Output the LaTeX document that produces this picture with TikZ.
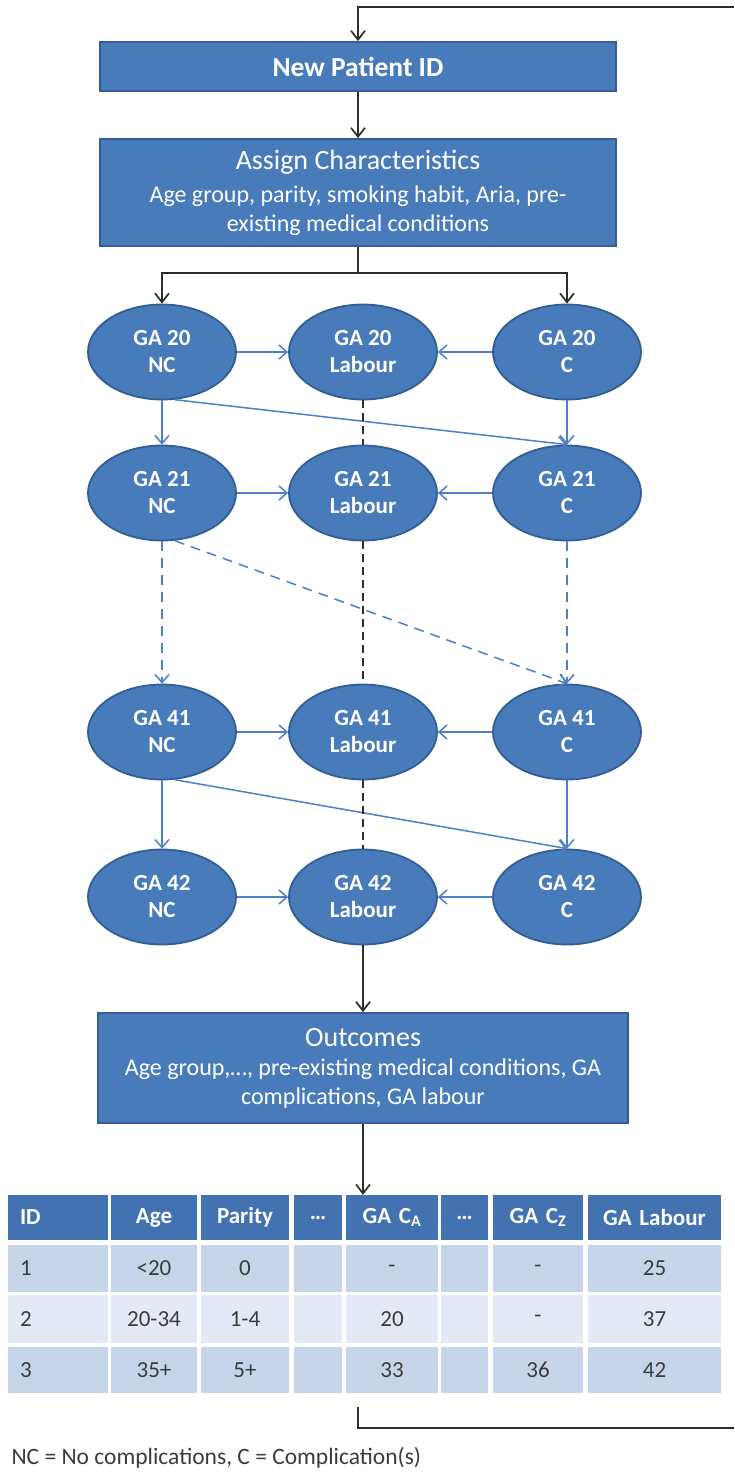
\documentclass[tikz,border=0pt]{standalone}
\usepackage{fontspec}
\setmainfont{Carlito}
\usetikzlibrary{shapes.geometric, arrows.meta}
\definecolor{boxblue}{RGB}{72,123,186}
\definecolor{boxline}{RGB}{50,94,148}
\definecolor{flowblue}{RGB}{78,128,200}
\definecolor{darkline}{RGB}{45,45,45}
\definecolor{headblue}{RGB}{66,114,176}
\definecolor{rowdark}{RGB}{199,213,234}
\definecolor{rowlight}{RGB}{227,234,245}
\definecolor{celltext}{RGB}{60,60,60}

\begin{document}
\begin{tikzpicture}[x=1pt, y=-1pt,
	box/.style={rectangle, draw=boxline, fill=boxblue, line width=1.8pt, text=white, align=center, inner sep=0pt},
	state/.style={ellipse, draw=boxline, fill=boxblue, line width=1.8pt, minimum width=148pt, minimum height=95pt, inner sep=0pt, text=white, align=center, font=\bfseries\fontsize{23}{27}\selectfont},
	flow/.style={draw=flowblue, line width=1.5pt, -{Straight Barb[length=8pt, width=14pt]}},
	main/.style={draw=darkline, line width=1.7pt, -{Straight Barb[length=9pt, width=14pt]}},
	cell/.style={rectangle, inner xsep=12pt, inner ysep=0pt, text=celltext, font=\fontsize{23}{26}\selectfont},
	cellalign/.style={align=center}]
		\useasboundingbox (0,0) rectangle (734,1476);
		\fill[white] (0,0) rectangle (734,1476);

		% boxes
		\node[box, minimum width=516pt, minimum height=49pt, font=\bfseries\fontsize{27.5}{30}\selectfont] (np) at (358,66.5) {New Patient ID};
		\node[box, minimum width=516pt, minimum height=107pt, font=\fontsize{24}{28.5}\selectfont] (ac) at (358,192.5) {{\fontsize{28}{32}\selectfont Assign Characteristics}\\[5pt] Age group, parity, smoking habit, Aria, pre-\\existing medical conditions};
		\node[box, minimum width=530pt, minimum height=110pt, font=\fontsize{24}{29}\selectfont] (oc) at (363,1068) {{\fontsize{28}{32}\selectfont Outcomes}\\[0pt] Age group,\ldots, pre-existing medical conditions, GA\\complications, GA labour};

		% gestational age states
		\foreach \ga/\y in {20/352, 21/493, 41/732, 42/897} {
			\node[state] (nc\ga) at (162,\y) {GA \ga\\NC};
			\node[state] (lab\ga) at (363,\y) {GA \ga\\Labour};
			\node[state] (c\ga) at (567,\y) {GA \ga\\C};
			\draw[flow] (nc\ga) -- (lab\ga);
			\draw[flow] (c\ga) -- (lab\ga);
		}
		\foreach \a/\b in {20/21, 41/42} {
			\draw[flow] (nc\a) -- (nc\b);
			\draw[flow] (c\a) -- (c\b);
			\draw[flow] (nc\a.-75) -- (c\b.north);
		}
		\draw[flow, dash pattern=on 10pt off 7pt] (nc21) -- (nc41);
		\draw[flow, dash pattern=on 10pt off 7pt] (c21) -- (c41);
		\draw[flow, dash pattern=on 10pt off 7pt] (nc21.-75) -- (c41.north);
		\foreach \a/\b in {20/21, 21/41, 41/42}
			\draw[darkline, line width=1.6pt, dash pattern=on 8pt off 5pt] (lab\a) -- (lab\b);

		% main flow
		\coordinate (loopin) at (734,7);
		\coordinate (split) at (358,273);
		\draw[main] (loopin) -| (np.north);
		\draw[main] (np) -- (ac);
		\draw[darkline, line width=1.7pt] (ac.south) -- (split);
		\draw[main] (split) -| (nc20.north);
		\draw[main] (split) -| (c20.north);
		\draw[main] (lab42.south) -- (lab42.south |- oc.north);

		% table
		\foreach \l/\r/\hd/\ra/\rb/\rc [count=\c] in {
			8/108/ID/1/2/3,
			111/197/Age/{<20}/20-34/35+,
			201/289/Parity/0/1-4/5+,
			294/342/\ldots/{}/{}/{},
			346/438/GA C\textsubscript{A}/-/20/33,
			441/488/\ldots/{}/{}/{},
			493/583/GA C\textsubscript{Z}/-/-/36,
			588/721/GA Labour/25/37/42} {
			\pgfmathsetmacro\tw{\r-\l-24}
			\ifnum\c=1 \tikzset{cellalign/.style={align=left}}\fi
			\node[cell, cellalign, fill=headblue, text=white, font=\bfseries\fontsize{23}{26}\selectfont, text width=\tw pt, minimum height=45pt] (h\c) at ({(\l+\r)/2},1217.5) {\hd};
			\node[cell, cellalign, fill=rowdark, text width=\tw pt, minimum height=47pt] (ra\c) at ({(\l+\r)/2},1268.5) {\ra};
			\node[cell, cellalign, fill=rowlight, text width=\tw pt, minimum height=48pt] (rb\c) at ({(\l+\r)/2},1319) {\rb};
			\node[cell, cellalign, fill=rowdark, text width=\tw pt, minimum height=46pt] (rc\c) at ({(\l+\r)/2},1370) {\rc};
		}
		\draw[main] (oc.south) -- (oc.south |- h5.north);

		% back to the next patient
		\coordinate (loopout) at (358,1407);
		\coordinate (loopedge) at (734,1428);
		\draw[darkline, line width=1.7pt] (loopout) |- (loopedge);

		\node[anchor=west, text=celltext, font=\fontsize{23.5}{25}\selectfont] (legend) at (8,1458) {NC = No complications, C = Complication(s)};
	\end{tikzpicture}
\end{document}
